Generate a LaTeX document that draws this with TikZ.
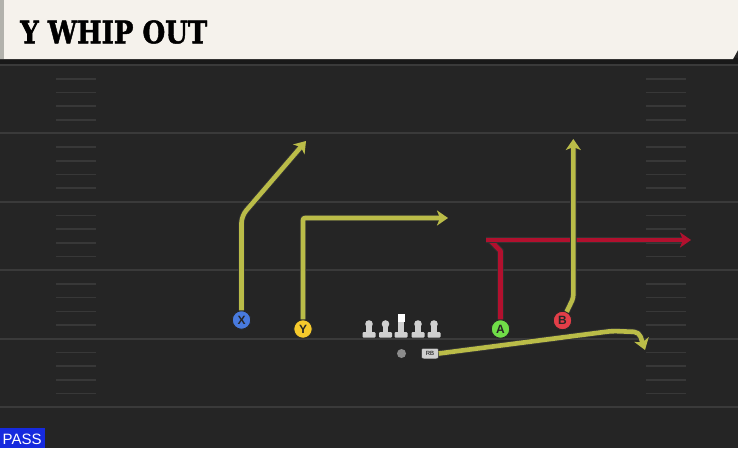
\documentclass[tikz,border=0pt]{standalone}
\usepackage{fontspec}
\setmainfont{Liberation Sans}
\newfontfamily\titlefont{DejaVu Serif}[BoldFeatures={FakeBold=1.6}]
\usetikzlibrary{arrows.meta}

\definecolor{fieldbg}{RGB}{37,37,37}
\definecolor{fieldline}{RGB}{58,58,58}
\definecolor{hashline}{RGB}{56,56,56}
\definecolor{headcream}{RGB}{245,242,236}
\definecolor{headedge}{RGB}{178,178,172}
\definecolor{routeyel}{RGB}{186,188,72}
\definecolor{routered}{RGB}{178,16,46}
\definecolor{xblue}{RGB}{72,122,222}
\definecolor{yyel}{RGB}{246,202,44}
\definecolor{agreen}{RGB}{112,222,72}
\definecolor{bred}{RGB}{226,62,72}
\definecolor{olgray}{RGB}{208,208,208}
\definecolor{passblue}{RGB}{22,42,222}

\tikzset{
  yardline/.style={draw=fieldline, line width=2pt},
  hashmark/.style={draw=hashline, line width=1.6pt},
  player/.style={circle, draw=black!85, line width=0.9pt, minimum size=18.5pt,
    inner sep=0pt, text=black!85, font=\bfseries\fontsize{12}{12}\selectfont},
  route/.style={line width=4.6pt, line join=round,
    preaction={draw=black!80, line width=6.4pt},
    -{Stealth[length=11pt,width=15pt,inset=3pt]}},
  lineman/.style={fill=olgray, draw=none},
}

\begin{document}
\begin{tikzpicture}[x=1pt,y=-1pt]
\useasboundingbox (0,0) rectangle (738,448);
\fill[fieldbg] (0,0) rectangle (738,448);

% yard lines and hashes
\foreach \yl in {65,133.4,201.8,270.2,338.6,407} {
  \draw[yardline] (0,\yl) -- (738,\yl);
}
\foreach \yl in {65,133.4,201.8,270.2,338.6} {
  \foreach \k in {1,...,4} {
    \draw[hashmark] (56,\yl+13.7*\k) -- (96,\yl+13.7*\k);
    \draw[hashmark] (646,\yl+13.7*\k) -- (686,\yl+13.7*\k);
  }
}

% header
\fill[black!90] (0,58) rectangle (738,64);
\fill[headcream] (0,0) -- (738,0) -- (738,50) -- (733,59) -- (0,59) -- cycle;
\fill[headedge] (0,0) rectangle (4,59);
\node[anchor=west, inner sep=0pt] (title) at (20,32)
  {\scalebox{0.84}[1]{\titlefont\bfseries\fontsize{31}{31}\selectfont Y WHIP OUT}};

% offensive line
\foreach \lx in {369,385.5,418,434} {
  \fill[lineman] (\lx,324) circle (3.8pt);
  \fill[lineman] (\lx-2.6,324) rectangle (\lx+2.6,333);
  \fill[lineman, rounded corners=1pt] (\lx-6.5,332) rectangle (\lx+6.5,337.5);
}
\fill[white] (397.5,314) rectangle (404.5,321.5);
\fill[lineman] (398.4,321.5) rectangle (403.6,333);
\fill[lineman, rounded corners=1pt] (394.5,332) rectangle (407.5,337.5);

% backfield
\node[circle, fill=black!45, inner sep=0pt, minimum size=9pt] (qb) at (401.5,353.5) {};
\node[rounded corners=2pt, fill=olgray, draw=black!80, line width=0.5pt,
  minimum width=17pt, minimum height=10.5pt, inner sep=0pt,
  font=\fontsize{6}{6}\selectfont] (rb) at (430,353.5) {RB};

% receivers
\node[player, fill=xblue] (rx) at (241.5,320) {X};
\node[player, fill=yyel] (ry) at (303,329) {Y};
\node[player, fill=agreen] (ra) at (500.5,329) {A};
\node[player, fill=bred] (rbb) at (562.5,320.5) {B};

% route points
\coordinate (xcut) at (241.5,216);
\coordinate (xend) at (306,141);
\coordinate (ycut) at (303,218);
\coordinate (yend) at (448,218);
\coordinate (acut) at (500.5,251);
\coordinate (awhip) at (490,240);
\coordinate (aend) at (691,240);
\coordinate (bcut) at (573.3,298);
\coordinate (bend) at (573.3,139);
\coordinate (rbturn) at (612,331);
\coordinate (rbcorner) at (639,332);
\coordinate (rbend) at (645,350);

% routes
\draw[route, draw=routered, -] (ra) -- (acut) -- (awhip) -- (486,240);
\draw[route, draw=routered] (486,240) -- (aend);
\draw[route, draw=routeyel, rounded corners=7pt] (rx) -- (xcut) -- (xend);
\draw[route, draw=routeyel, rounded corners=2pt] (ry) -- (ycut) -- (yend);
\draw[route, draw=routeyel, rounded corners=3pt] (rbb) -- (bcut) -- (bend);
\draw[route, draw=routeyel, rounded corners=5pt] (rb.east) -- (rbturn) -- (rbcorner) -- (rbend);

% play type
\fill[passblue] (0,428) rectangle (45,448);
\node[text=white, inner sep=0pt, anchor=base west, font=\fontsize{15}{15}\selectfont] (ptype) at (2.5,444.5) {PASS};
\end{tikzpicture}
\end{document}
